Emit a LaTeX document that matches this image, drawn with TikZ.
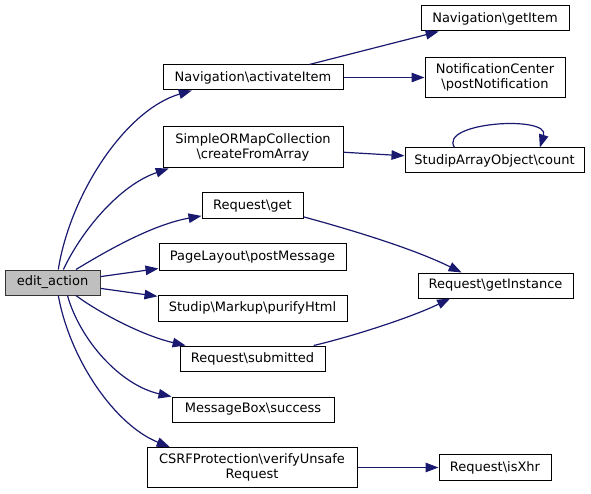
\documentclass[tikz,border=0pt]{standalone}
\usepackage{fontspec}
\setmainfont{DejaVu Sans}
\usepackage{tikz}
\usetikzlibrary{arrows.meta}
\definecolor{edgeblue}{HTML}{191970}
\definecolor{rootgray}{HTML}{BFBFBF}

\begin{document}
\begin{tikzpicture}[x=1pt, y=-1pt, >={Triangle[length=13pt,width=9.5pt]},
    fn/.style={draw=black, fill=white, line width=1pt, inner sep=0pt,
        minimum height=25pt, align=center, font=\fontsize{13}{15}\selectfont},
    call/.style={->, draw=edgeblue, line width=1.2pt}]
    \useasboundingbox (0,0) rectangle (591,494);

    % 入口函数
    \node[fn, fill=rootgray, draw=black!80, minimum width=95pt] (edit) at (52.5,282.5) {edit\_action};

    % 第一层调用
    \node[fn, minimum width=180pt] (act) at (253,77.5) {Navigation\textbackslash activateItem};
    \node[fn, minimum width=180pt, minimum height=41pt] (create) at (253,147.5) {SimpleORMapCollection\\\textbackslash createFromArray};
    \node[fn, minimum width=101pt, minimum height=26pt] (get) at (252.5,206) {Request\textbackslash get};
    \node[fn, minimum width=187pt, minimum height=26pt] (postmsg) at (252.5,257) {PageLayout\textbackslash postMessage};
    \node[fn, minimum width=189pt, minimum height=26pt] (purify) at (252.5,308) {Studip\textbackslash Markup\textbackslash purifyHtml};
    \node[fn, minimum width=145pt] (submitted) at (252.5,358.5) {Request\textbackslash submitted};
    \node[fn, minimum width=162pt] (msgbox) at (253,409.5) {MessageBox\textbackslash success};
    \node[fn, minimum width=210pt, minimum height=40pt] (csrf) at (252,467.5) {CSRFProtection\textbackslash verifyUnsafe\\Request};

    % 第二层调用
    \node[fn, minimum width=148pt] (getitem) at (495,18.5) {Navigation\textbackslash getItem};
    \node[fn, minimum width=140pt, minimum height=40pt] (notify) at (495,77.5) {NotificationCenter\\\textbackslash postNotification};
    \node[fn, minimum width=179pt] (count) at (494.5,160.5) {StudipArrayObject\textbackslash count};
    \node[fn, minimum width=155pt] (getinst) at (495.5,285.5) {Request\textbackslash getInstance};
    \node[fn, minimum width=112pt, minimum height=26pt] (isxhr) at (495,467.5) {Request\textbackslash isXhr};

    % edit_action 的调用
    \draw[call] (edit.66) .. controls (70,195) and (125,110) .. (act.192);
    \draw[call] (edit.50) .. controls (82,230) and (120,185) .. (create.194);
    \draw[call] (edit.29) .. controls (100,255) and (150,225) .. (get.191);
    \draw[call] (edit.7) -- (postmsg.187);
    \draw[call] (edit.-7) -- (purify.173);
    \draw[call] (edit.-29) .. controls (95,310) and (140,335) .. (submitted.169);
    \draw[call] (edit.-41) .. controls (80,340) and (120,385) .. (msgbox.171);
    \draw[call] (edit.-66) .. controls (70,360) and (115,425) .. (csrf.166);

    % 下一层
    \draw[call] (act.13.5) -- (getitem.193.5);
    \draw[call] (act.east) -- (notify.west);
    \draw[call] (create.-3) -- (count.177);
    \draw[call] (count.162) .. controls (438,122) and (550,115) .. (count.16);
    \draw[call] (get.-12) .. controls (370,235) and (420,252) .. (getinst.159);
    \draw[call] (submitted.12) .. controls (350,337) and (410,318) .. (getinst.196);
    \draw[call] (csrf.east) -- (isxhr.west);
\end{tikzpicture}
\end{document}
